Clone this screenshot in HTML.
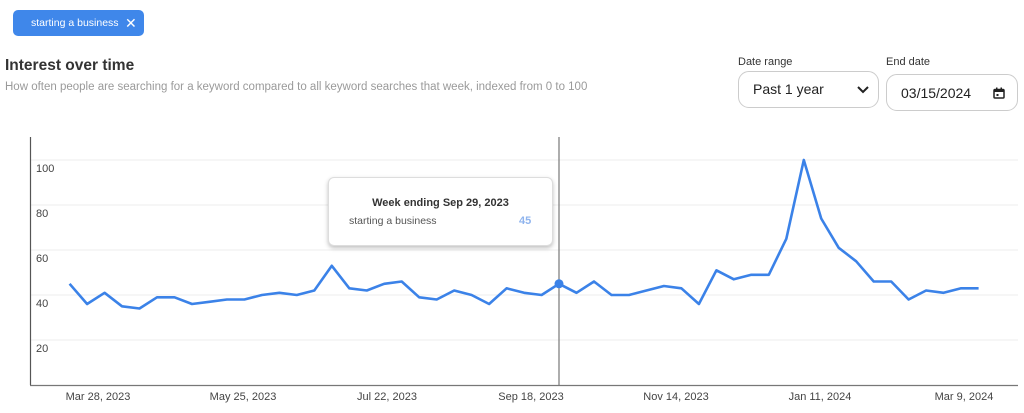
<!DOCTYPE html>
<html><head><meta charset="utf-8"><style>
body{margin:0;width:1024px;height:413px;background:#fff;font-family:"Liberation Sans",sans-serif;position:relative;overflow:hidden}
.a{position:absolute;white-space:nowrap}
</style></head><body>
<div class="a" style="left:13px;top:10px;width:131px;height:26px;background:#3f87ea;border-radius:5px;color:#fff;font-size:10.5px;line-height:26px;padding-left:18px;box-sizing:border-box">starting a business<span style="position:absolute;left:112px;top:0;font-size:14px">✕</span></div>
<div class="a" style="left:5px;top:57px;font-size:15.5px;font-weight:bold;color:#333">Interest over time</div>
<div class="a" style="left:5px;top:81px;font-size:11.5px;color:#9a9a9a">How often people are searching for a keyword compared to all keyword searches that week, indexed from 0 to 100</div>
<div class="a" style="left:738px;top:56px;font-size:11px;color:#333">Date range</div>
<div class="a" style="left:738px;top:71px;width:141px;height:37px;border:1px solid #ccc;border-radius:11px;box-sizing:border-box;font-size:14px;line-height:35px;padding-left:14px;color:#222">Past 1 year<svg style="position:absolute;left:118px;top:14px" width="12" height="8"><path d="M1 1L6 6L11 1" stroke="#222" stroke-width="2" fill="none"/></svg></div>
<div class="a" style="left:886px;top:56px;font-size:11px;color:#333">End date</div>
<div class="a" style="left:886px;top:74px;width:132px;height:37px;border:1px solid #ccc;border-radius:11px;box-sizing:border-box;font-size:14px;line-height:37px;padding-left:14px;color:#222">03/15/2024<svg style="position:absolute;left:106px;top:12px" width="12" height="12"><rect x="1" y="2.5" width="10" height="8.5" rx="1" stroke="#222" stroke-width="1.5" fill="none"/><rect x="1" y="2.5" width="10" height="2.5" fill="#222"/><rect x="3" y="0.5" width="1.5" height="3" fill="#222"/><rect x="7.5" y="0.5" width="1.5" height="3" fill="#222"/><rect x="3.5" y="7" width="2" height="2" fill="#222"/></svg></div>
<svg class="a" style="left:0;top:0" width="1024" height="413">
<g stroke="#eee" stroke-width="1">
<line x1="31" x2="1018" y1="160" y2="160"/><line x1="31" x2="1018" y1="205" y2="205"/><line x1="31" x2="1018" y1="250" y2="250"/><line x1="31" x2="1018" y1="295" y2="295"/><line x1="31" x2="1018" y1="340" y2="340"/>
</g>
<line x1="30.5" x2="30.5" y1="137" y2="385" stroke="#555" stroke-width="1.2"/>
<line x1="30" x2="1018" y1="385.5" y2="385.5" stroke="#777" stroke-width="1.2"/>
<g font-size="11" fill="#444" font-family="Liberation Sans">
<text x="36" y="172">100</text><text x="36" y="217">80</text><text x="36" y="262">60</text><text x="36" y="307">40</text><text x="36" y="352">20</text>
</g>
<g font-size="11" fill="#444" font-family="Liberation Sans" text-anchor="middle">
<text x="98" y="400">Mar 28, 2023</text><text x="243" y="400">May 25, 2023</text><text x="387" y="400">Jul 22, 2023</text><text x="531" y="400">Sep 18, 2023</text><text x="676" y="400">Nov 14, 2023</text><text x="820" y="400">Jan 11, 2024</text><text x="964" y="400">Mar 9, 2024</text>
</g>
<line x1="559" x2="559" y1="137" y2="385" stroke="#777" stroke-width="1.2"/>
<polyline id="p" fill="none" stroke="#3b82e8" stroke-width="2.6" stroke-linejoin="round" points=""/>
<circle cx="559" cy="283.8" r="4.5" fill="#3b82e8"/>
</svg>
<div class="a" style="left:328px;top:177px;width:223px;height:67px;background:#fff;border:1px solid #ddd;border-radius:6px;box-shadow:0 2px 4px rgba(0,0,0,.25)">
<div class="a" style="left:0;width:223px;top:19px;text-align:center;font-size:11px;font-weight:bold;color:#333">Week ending Sep 29, 2023</div>
<div class="a" style="left:20px;top:37px;font-size:10.5px;color:#555">starting a business</div>
<div class="a" style="left:190px;top:37px;font-size:11px;font-weight:bold;color:#8fb4ee">45</div>
</div>
<script>
var v=[45,36,41,35,34,39,39,36,37,38,38,40,41,40,42,53,43,42,45,46,39,38,42,40,36,43,41,40,45,41,46,40,40,42,44,43,36,51,47,49,49,65,100,74,61,55,46,46,38,42,41,43,43];
var s="";for(var i=0;i<v.length;i++){s+=(69.6+i*17.48).toFixed(1)+","+(385-2.25*v[i]).toFixed(1)+" ";}
document.getElementById("p").setAttribute("points",s);
</script>
</body></html>
